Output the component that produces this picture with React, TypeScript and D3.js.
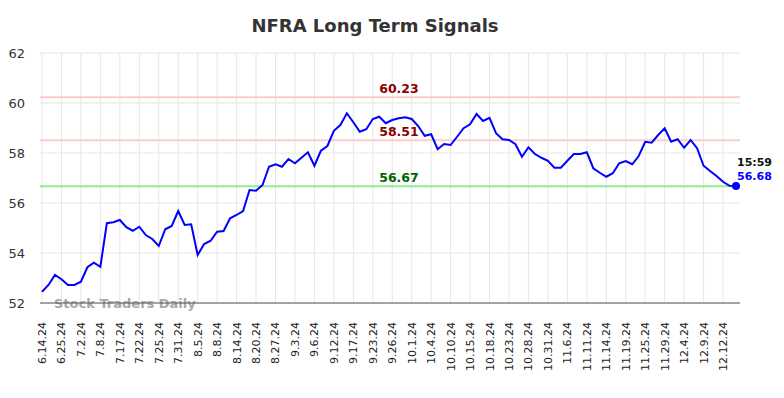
import { scaleLinear, line } from 'd3';

const dateLabels = [
  '6.14.24', '6.25.24', '7.2.24', '7.8.24', '7.17.24', '7.22.24', '7.25.24', '7.31.24',
  '8.5.24', '8.8.24', '8.14.24', '8.20.24', '8.27.24', '9.3.24', '9.6.24', '9.12.24',
  '9.17.24', '9.23.24', '9.26.24', '10.1.24', '10.4.24', '10.10.24', '10.15.24', '10.18.24',
  '10.23.24', '10.28.24', '10.31.24', '11.6.24', '11.11.24', '11.14.24', '11.19.24', '11.25.24',
  '11.29.24', '12.4.24', '12.9.24', '12.12.24'
];

const prices = [
  52.45, 52.72, 53.12, 52.95, 52.72, 52.72, 52.85, 53.43, 53.61, 53.45,
  55.19, 55.23, 55.32, 55.03, 54.89, 55.05, 54.72, 54.56, 54.28, 54.95,
  55.08, 55.68, 55.12, 55.15, 53.92, 54.36, 54.49, 54.85, 54.88, 55.39,
  55.52, 55.68, 56.52, 56.49, 56.72, 57.45, 57.55, 57.45, 57.76, 57.59,
  57.81, 58.03, 57.49, 58.09, 58.28, 58.89, 59.12, 59.59, 59.23, 58.85,
  58.95, 59.36, 59.45, 59.19, 59.32, 59.39, 59.43, 59.36, 59.08, 58.69,
  58.75, 58.15, 58.36, 58.32, 58.65, 58.99, 59.15, 59.56, 59.28, 59.41,
  58.79, 58.55, 58.52, 58.35, 57.85, 58.23, 57.96, 57.81, 57.69, 57.41,
  57.41, 57.69, 57.96, 57.96, 58.03, 57.39, 57.21, 57.05, 57.19, 57.59,
  57.68, 57.55, 57.88, 58.45, 58.41, 58.72, 58.99, 58.45, 58.55, 58.21,
  58.52, 58.19, 57.49, 57.28, 57.08, 56.85, 56.69, 56.68
];

const yTicks = [52, 54, 56, 58, 60, 62];
const resistance = [60.23, 58.51];
const support = [56.67];
const lastTime = '15:59';
const labelEvery = 3;

const W = 784;
const H = 398;
const left = 40;
const right = 740;
const top = 53;
const bottom = 303;
const font = '"DejaVu Sans", sans-serif';

export default function App() {
  const x = scaleLinear().domain([0, prices.length - 1]).range([42, 736]);
  const y = scaleLinear().domain([52, 62]).range([bottom, top]);
  const path = line<number>()
    .x((_, i) => x(i))
    .y((d) => y(d))(prices);
  const last = prices[prices.length - 1];

  return (
    <div style={{ position: 'fixed', left: 0, top: 0 }}>
      <svg width={W} height={H} style={{ display: 'block', fontFamily: font }}>
        <rect width={W} height={H} fill='#fff' />
        <text x={375} y={32} textAnchor='middle' fontSize={18} fontWeight='bold' fill='#333'>
          NFRA Long Term Signals
        </text>

        {/* grid */}
        {yTicks.map((t) => (
          <g key={t}>
            <line x1={left} x2={right} y1={y(t)} y2={y(t)} stroke='#e6e6e6' />
            <text x={25} y={y(t) + 5} textAnchor='end' fontSize={13} fill='#333'>
              {t}
            </text>
          </g>
        ))}
        {dateLabels.map((d, k) => {
          const xi = x(k * labelEvery);
          return (
            <g key={d}>
              <line x1={xi} x2={xi} y1={top} y2={bottom} stroke='#e6e6e6' />
              <text
                transform={`translate(${xi + 4},322) rotate(-90)`}
                textAnchor='end'
                fontSize={11}
                fill='#222'
              >
                {d}
              </text>
            </g>
          );
        })}

        {/* signal levels */}
        {resistance.map((v) => (
          <line key={v} x1={left} x2={right} y1={y(v)} y2={y(v)} stroke='#ffcccc' strokeWidth={2} />
        ))}
        {support.map((v) => (
          <line key={v} x1={left} x2={right} y1={y(v)} y2={y(v)} stroke='#90ee90' strokeWidth={2} />
        ))}

        <text x={54} y={308} fontSize={13} fontWeight='bold' fill='#999' opacity={0.85}>
          Stock Traders Daily
        </text>
        <line x1={left} x2={right} y1={bottom} y2={bottom} stroke='#555' />

        <path d={path ?? ''} fill='none' stroke='#0000ff' strokeWidth={2} />

        {resistance.map((v) => (
          <text key={v} x={399} y={y(v) - 4} textAnchor='middle' fontSize={12.5} fontWeight='bold' fill='#8b0000'>
            {v.toFixed(2)}
          </text>
        ))}
        {support.map((v) => (
          <text key={v} x={399} y={y(v) - 4} textAnchor='middle' fontSize={12.5} fontWeight='bold' fill='#006400'>
            {v.toFixed(2)}
          </text>
        ))}

        <circle cx={x(prices.length - 1)} cy={y(last)} r={4} fill='#0000ff' />
        <text x={737} y={166} fontSize={11} fontWeight='bold' fill='#111'>
          {lastTime}
        </text>
        <text x={737} y={180} fontSize={11} fontWeight='bold' fill='#0000ff'>
          {last.toFixed(2)}
        </text>
      </svg>
    </div>
  );
}
